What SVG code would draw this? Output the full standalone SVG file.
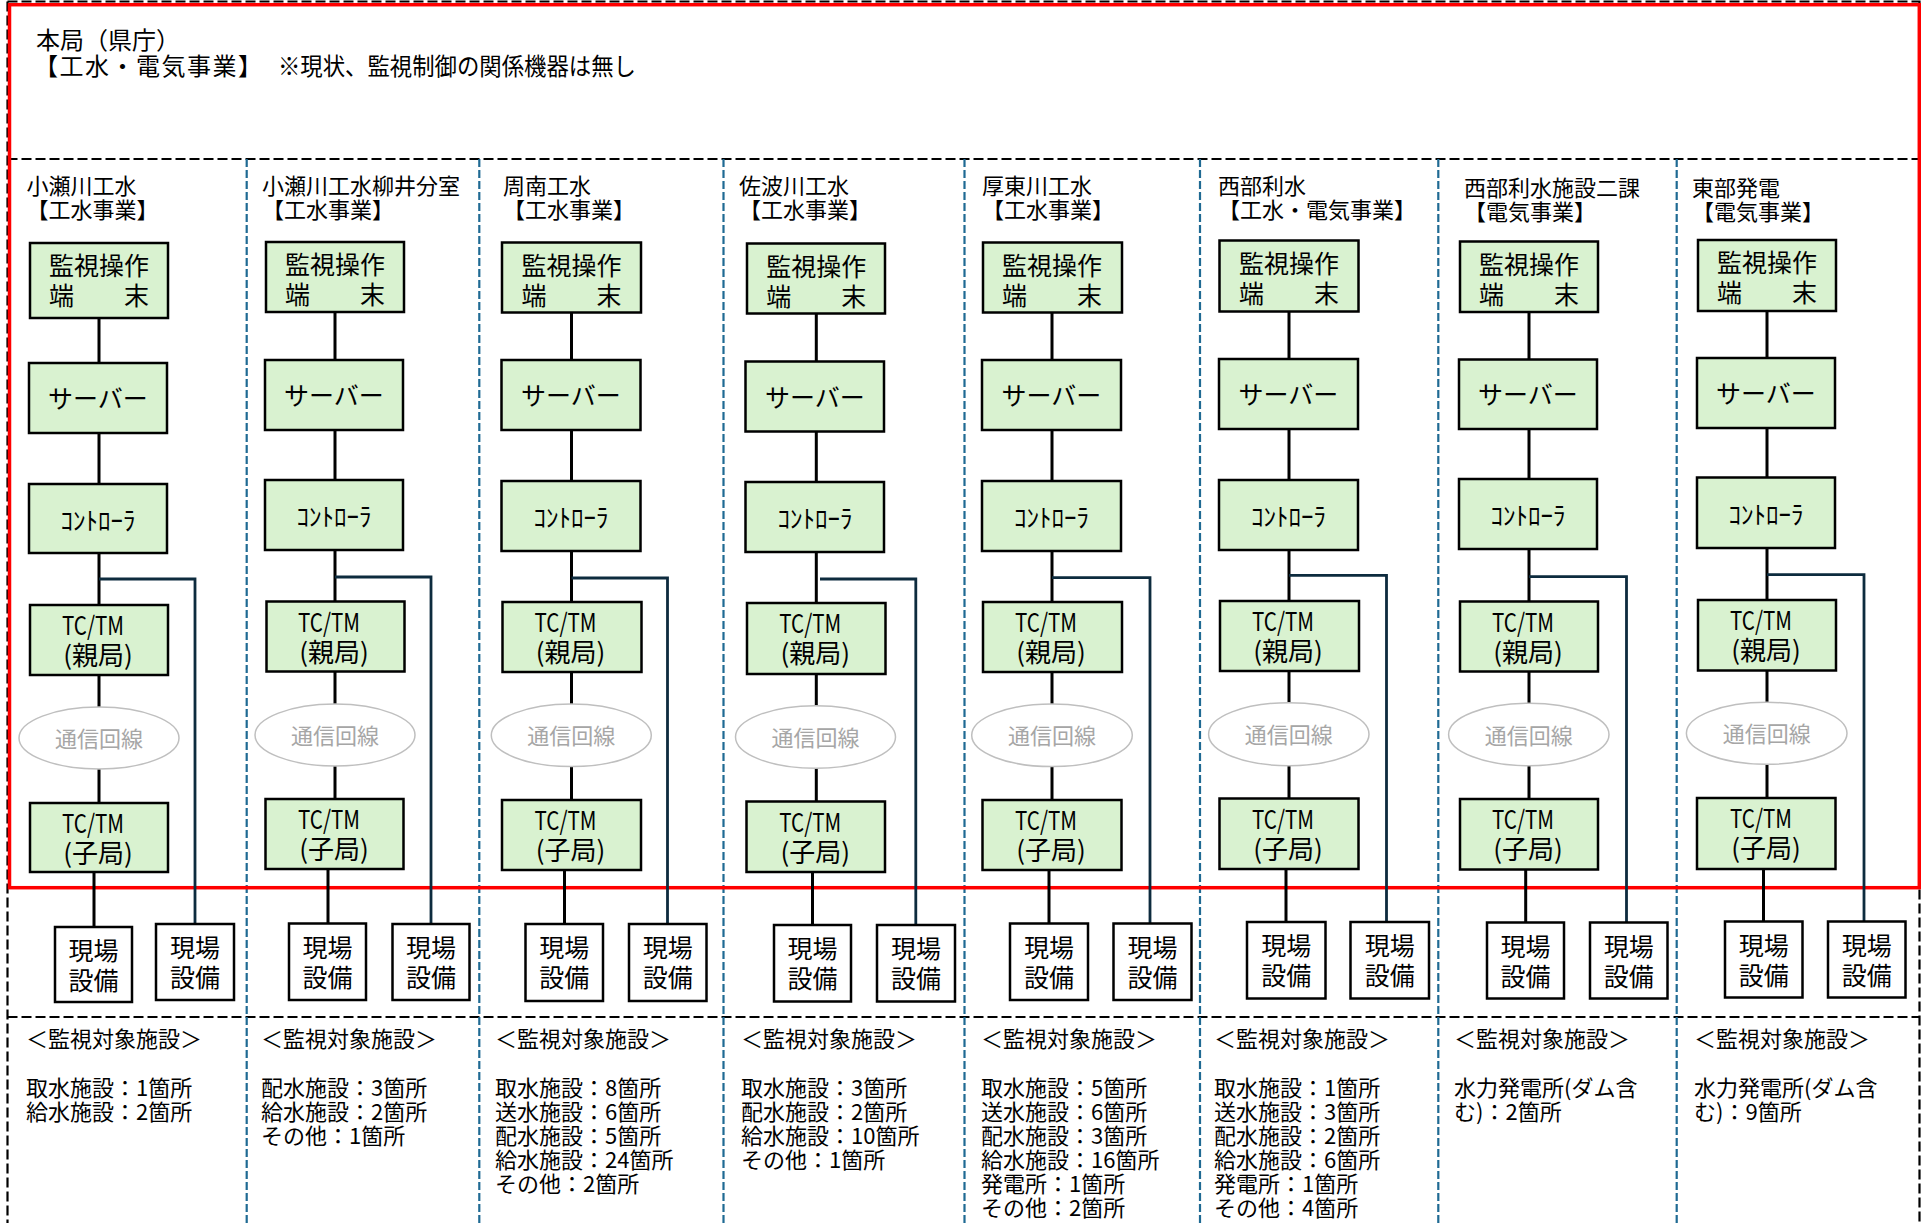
<svg xmlns="http://www.w3.org/2000/svg" width="1921" height="1223" viewBox="0 0 1921 1223">
<style>
text{font-family:"Noto Sans CJK JP","Noto Sans CJK SC",sans-serif;fill:#000}
.c{text-anchor:middle}
.t22{font-size:22px}
.t24{font-size:24px}
.t25{font-size:25px}
.t26{font-size:26px}
.g{fill:#A6A6A6}
.box{fill:#D9F2D0;stroke:#000;stroke-width:2.5}
.fbox{fill:#fff;stroke:#000;stroke-width:2.5}
.oval{fill:#fff;stroke:#BFBFBF;stroke-width:1.5}
.ln{stroke:#000;stroke-width:3;fill:none}
.br{stroke:#0D2B3E;stroke-width:2.8;fill:none}
.dash{stroke:#000;stroke-width:2.2;stroke-dasharray:10 4;fill:none}
.div{stroke:#1F6A93;stroke-width:2.2;stroke-dasharray:8 3;fill:none}
</style>
<rect width="1921" height="1223" fill="#fff"/>
<g id="frame">
<path class="dash" d="M7.5 1.5H1919.5V1223M7.5 1.5V1223"/>
<path class="dash" d="M7.5 159H1919.5M7.5 1017H1919.5"/>
<path class="div" d="M246.7 159V1223M479.3 159V1223M723.5 159V1223M964.5 159V1223M1200 159V1223M1438.3 159V1223M1676.7 159V1223"/>
<rect x="9.5" y="4.7" width="1909.8" height="883" fill="none" stroke="#FF0000" stroke-width="3.5"/>
</g>
<g id="honkyoku">
<text class="t24" x="36" y="49">本局（県庁）</text>
<text class="t24" x="34" y="75" textLength="228" lengthAdjust="spacing">【工水・電気事業】</text>
<text class="t24" x="278" y="75" textLength="358" lengthAdjust="spacingAndGlyphs">※現状、監視制御の関係機器は無し</text>
</g>
<g id="connectors">
<path class="ln" d="M99 318V803M94 872V927"/><path class="br" d="M99 579H195V924"/>
<path class="ln" d="M335 312V799M328 869V923.5"/><path class="br" d="M335 577H431V924"/>
<path class="ln" d="M571.5 312.5V800M564.5 870V924"/><path class="br" d="M571.5 578H667.5V924"/>
<path class="ln" d="M816.3 313.5V801.5M812.5 872V925"/><path class="br" d="M820 579H915.8V925"/>
<path class="ln" d="M1052 312.5V800M1049 870V923.5"/><path class="br" d="M1052 577.7H1150V923.5"/>
<path class="ln" d="M1289 311.5V798.5M1286 869V922"/><path class="br" d="M1289 575.3H1386.5V922"/>
<path class="ln" d="M1529 312V799M1525.7 869.5V922.5"/><path class="br" d="M1529 576.7H1626.5V922.5"/>
<path class="ln" d="M1767 311V798M1763.5 869V921.5"/><path class="br" d="M1767 574.7H1864V921.5"/>
</g>
<g id="col1">
<text class="t22"><tspan x="26.5" y="194">小瀬川工水</tspan><tspan x="26.5" y="218">【工水事業】</tspan></text>
<g id="c1-term"><rect class="box" x="30" y="243" width="138" height="75"/><text class="t25 c"><tspan x="99" y="275">監視操作</tspan><tspan x="99" y="305">端　　末</tspan></text></g>
<g id="c1-server"><rect class="box" x="29" y="363" width="138" height="70"/><text class="t25 c" x="98" y="408">サーバー</text></g>
<g id="c1-ctrl"><rect class="box" x="29" y="484" width="138" height="69"/><text class="t25 c" x="98" y="530">ｺﾝﾄﾛｰﾗ</text></g>
<g id="c1-parent"><rect class="box" x="30" y="605" width="138" height="70"/><text class="t26" x="62" y="635" textLength="62" lengthAdjust="spacingAndGlyphs">TC/TM</text><text class="t26 c" x="98" y="665">(親局)</text></g>
<g id="c1-line"><ellipse class="oval" cx="99" cy="738" rx="80" ry="31"/><text class="t22 c g" x="99" y="747">通信回線</text></g>
<g id="c1-child"><rect class="box" x="30" y="803" width="138" height="69"/><text class="t26" x="62" y="833" textLength="62" lengthAdjust="spacingAndGlyphs">TC/TM</text><text class="t26 c" x="98" y="863">(子局)</text></g>
<g id="c1-field1"><rect class="fbox" x="55" y="927" width="77" height="75"/><text class="t25 c"><tspan x="93.5" y="960">現場</tspan><tspan x="93.5" y="990">設備</tspan></text></g>
<g id="c1-field2"><rect class="fbox" x="156" y="924" width="78" height="76"/><text class="t25 c"><tspan x="195" y="957">現場</tspan><tspan x="195" y="987">設備</tspan></text></g>
<text class="t22"><tspan x="26" y="1047">＜監視対象施設＞</tspan><tspan x="26" y="1096">取水施設：1箇所</tspan><tspan x="26" y="1120">給水施設：2箇所</tspan></text>
</g>
<g id="col2">
<text class="t22"><tspan x="262" y="194">小瀬川工水柳井分室</tspan><tspan x="262" y="218">【工水事業】</tspan></text>
<g id="c2-term"><rect class="box" x="266" y="242" width="138" height="70"/><text class="t25 c"><tspan x="335" y="274">監視操作</tspan><tspan x="335" y="304">端　　末</tspan></text></g>
<g id="c2-server"><rect class="box" x="265" y="360" width="138" height="70"/><text class="t25 c" x="334" y="405">サーバー</text></g>
<g id="c2-ctrl"><rect class="box" x="265" y="480" width="138" height="70"/><text class="t25 c" x="334" y="526">ｺﾝﾄﾛｰﾗ</text></g>
<g id="c2-parent"><rect class="box" x="266.5" y="601.5" width="138" height="70"/><text class="t26" x="298" y="631.5" textLength="62" lengthAdjust="spacingAndGlyphs">TC/TM</text><text class="t26 c" x="334" y="661.5">(親局)</text></g>
<g id="c2-line"><ellipse class="oval" cx="335" cy="735" rx="80" ry="31"/><text class="t22 c g" x="335" y="744">通信回線</text></g>
<g id="c2-child"><rect class="box" x="265.5" y="799" width="138" height="70"/><text class="t26" x="298" y="829" textLength="62" lengthAdjust="spacingAndGlyphs">TC/TM</text><text class="t26 c" x="334" y="859">(子局)</text></g>
<g id="c2-field1"><rect class="fbox" x="289" y="923.5" width="77" height="76.5"/><text class="t25 c"><tspan x="327.5" y="956.5">現場</tspan><tspan x="327.5" y="986.5">設備</tspan></text></g>
<g id="c2-field2"><rect class="fbox" x="392.5" y="924" width="77" height="76"/><text class="t25 c"><tspan x="431" y="957">現場</tspan><tspan x="431" y="987">設備</tspan></text></g>
<text class="t22"><tspan x="261" y="1047">＜監視対象施設＞</tspan><tspan x="261" y="1096">配水施設：3箇所</tspan><tspan x="261" y="1120">給水施設：2箇所</tspan><tspan x="261" y="1144">その他：1箇所</tspan></text>
</g>
<g id="col3">
<text class="t22"><tspan x="503" y="194">周南工水</tspan><tspan x="503" y="218">【工水事業】</tspan></text>
<g id="c3-term"><rect class="box" x="502" y="242.5" width="139" height="70"/><text class="t25 c"><tspan x="571.5" y="274.5">監視操作</tspan><tspan x="571.5" y="304.5">端　　末</tspan></text></g>
<g id="c3-server"><rect class="box" x="501.5" y="360" width="139" height="70"/><text class="t25 c" x="571" y="405">サーバー</text></g>
<g id="c3-ctrl"><rect class="box" x="501.5" y="481" width="139" height="70"/><text class="t25 c" x="571" y="527">ｺﾝﾄﾛｰﾗ</text></g>
<g id="c3-parent"><rect class="box" x="502.5" y="602" width="139" height="70"/><text class="t26" x="534.5" y="632" textLength="62" lengthAdjust="spacingAndGlyphs">TC/TM</text><text class="t26 c" x="570.5" y="662">(親局)</text></g>
<g id="c3-line"><ellipse class="oval" cx="571.3" cy="735.3" rx="80" ry="31.3"/><text class="t22 c g" x="571.3" y="744.3">通信回線</text></g>
<g id="c3-child"><rect class="box" x="502" y="800" width="139" height="70"/><text class="t26" x="534.5" y="830" textLength="62" lengthAdjust="spacingAndGlyphs">TC/TM</text><text class="t26 c" x="570.5" y="860">(子局)</text></g>
<g id="c3-field1"><rect class="fbox" x="525.5" y="924" width="77.5" height="77"/><text class="t25 c"><tspan x="564.3" y="957">現場</tspan><tspan x="564.3" y="987">設備</tspan></text></g>
<g id="c3-field2"><rect class="fbox" x="629" y="924" width="77.5" height="77"/><text class="t25 c"><tspan x="667.8" y="957">現場</tspan><tspan x="667.8" y="987">設備</tspan></text></g>
<text class="t22"><tspan x="495" y="1047">＜監視対象施設＞</tspan><tspan x="495" y="1096">取水施設：8箇所</tspan><tspan x="495" y="1120">送水施設：6箇所</tspan><tspan x="495" y="1144">配水施設：5箇所</tspan><tspan x="495" y="1168">給水施設：24箇所</tspan><tspan x="495" y="1192">その他：2箇所</tspan></text>
</g>
<g id="col4">
<text class="t22"><tspan x="739" y="194">佐波川工水</tspan><tspan x="739" y="218">【工水事業】</tspan></text>
<g id="c4-term"><rect class="box" x="747" y="243.5" width="138" height="70"/><text class="t25 c"><tspan x="816.3" y="275.5">監視操作</tspan><tspan x="816.3" y="305.5">端　　末</tspan></text></g>
<g id="c4-server"><rect class="box" x="745.5" y="361.5" width="138.5" height="70"/><text class="t25 c" x="815" y="406.5">サーバー</text></g>
<g id="c4-ctrl"><rect class="box" x="745.5" y="482" width="138.5" height="70"/><text class="t25 c" x="815" y="528">ｺﾝﾄﾛｰﾗ</text></g>
<g id="c4-parent"><rect class="box" x="747" y="603" width="138.5" height="71"/><text class="t26" x="779.3" y="633" textLength="62" lengthAdjust="spacingAndGlyphs">TC/TM</text><text class="t26 c" x="815.3" y="663">(親局)</text></g>
<g id="c4-line"><ellipse class="oval" cx="815.5" cy="737" rx="80" ry="31.3"/><text class="t22 c g" x="815.5" y="746">通信回線</text></g>
<g id="c4-child"><rect class="box" x="746.5" y="801.5" width="138.5" height="70.5"/><text class="t26" x="779.3" y="831.5" textLength="62" lengthAdjust="spacingAndGlyphs">TC/TM</text><text class="t26 c" x="815.3" y="861.5">(子局)</text></g>
<g id="c4-field1"><rect class="fbox" x="774" y="925" width="77" height="76.5"/><text class="t25 c"><tspan x="812.5" y="958">現場</tspan><tspan x="812.5" y="988">設備</tspan></text></g>
<g id="c4-field2"><rect class="fbox" x="877" y="925" width="78" height="76.5"/><text class="t25 c"><tspan x="916" y="958">現場</tspan><tspan x="916" y="988">設備</tspan></text></g>
<text class="t22"><tspan x="741" y="1047">＜監視対象施設＞</tspan><tspan x="741" y="1096">取水施設：3箇所</tspan><tspan x="741" y="1120">配水施設：2箇所</tspan><tspan x="741" y="1144">給水施設：10箇所</tspan><tspan x="741" y="1168">その他：1箇所</tspan></text>
</g>
<g id="col5">
<text class="t22"><tspan x="982" y="194">厚東川工水</tspan><tspan x="982" y="218">【工水事業】</tspan></text>
<g id="c5-term"><rect class="box" x="983" y="242.5" width="139" height="70"/><text class="t25 c"><tspan x="1052" y="274.5">監視操作</tspan><tspan x="1052" y="304.5">端　　末</tspan></text></g>
<g id="c5-server"><rect class="box" x="982" y="360" width="139" height="70"/><text class="t25 c" x="1051.5" y="405">サーバー</text></g>
<g id="c5-ctrl"><rect class="box" x="982" y="481" width="139" height="70"/><text class="t25 c" x="1051.5" y="527">ｺﾝﾄﾛｰﾗ</text></g>
<g id="c5-parent"><rect class="box" x="983" y="602" width="139" height="70"/><text class="t26" x="1015" y="632" textLength="62" lengthAdjust="spacingAndGlyphs">TC/TM</text><text class="t26 c" x="1051" y="662">(親局)</text></g>
<g id="c5-line"><ellipse class="oval" cx="1052" cy="735.3" rx="80.3" ry="31.3"/><text class="t22 c g" x="1052" y="744.3">通信回線</text></g>
<g id="c5-child"><rect class="box" x="982.5" y="800" width="139" height="70"/><text class="t26" x="1015" y="830" textLength="62" lengthAdjust="spacingAndGlyphs">TC/TM</text><text class="t26 c" x="1051" y="860">(子局)</text></g>
<g id="c5-field1"><rect class="fbox" x="1010" y="923.5" width="78" height="76.5"/><text class="t25 c"><tspan x="1049" y="956.5">現場</tspan><tspan x="1049" y="986.5">設備</tspan></text></g>
<g id="c5-field2"><rect class="fbox" x="1113.5" y="923.5" width="78" height="76.5"/><text class="t25 c"><tspan x="1152.5" y="956.5">現場</tspan><tspan x="1152.5" y="986.5">設備</tspan></text></g>
<text class="t22"><tspan x="981" y="1047">＜監視対象施設＞</tspan><tspan x="981" y="1096">取水施設：5箇所</tspan><tspan x="981" y="1120">送水施設：6箇所</tspan><tspan x="981" y="1144">配水施設：3箇所</tspan><tspan x="981" y="1168">給水施設：16箇所</tspan><tspan x="981" y="1192">発電所：1箇所</tspan><tspan x="981" y="1216">その他：2箇所</tspan></text>
</g>
<g id="col6">
<text class="t22"><tspan x="1218" y="194">西部利水</tspan><tspan x="1218" y="218">【工水・電気事業】</tspan></text>
<g id="c6-term"><rect class="box" x="1219.5" y="240.5" width="139" height="71"/><text class="t25 c"><tspan x="1289" y="272.5">監視操作</tspan><tspan x="1289" y="302.5">端　　末</tspan></text></g>
<g id="c6-server"><rect class="box" x="1219" y="359" width="139" height="70"/><text class="t25 c" x="1288.5" y="404">サーバー</text></g>
<g id="c6-ctrl"><rect class="box" x="1219" y="480" width="139" height="70"/><text class="t25 c" x="1288.5" y="526">ｺﾝﾄﾛｰﾗ</text></g>
<g id="c6-parent"><rect class="box" x="1220" y="601" width="139" height="70"/><text class="t26" x="1252" y="631" textLength="62" lengthAdjust="spacingAndGlyphs">TC/TM</text><text class="t26 c" x="1288" y="661">(親局)</text></g>
<g id="c6-line"><ellipse class="oval" cx="1288.8" cy="734.2" rx="80.2" ry="31.5"/><text class="t22 c g" x="1288.8" y="743.2">通信回線</text></g>
<g id="c6-child"><rect class="box" x="1219.5" y="798.5" width="139" height="70.5"/><text class="t26" x="1252" y="828.5" textLength="62" lengthAdjust="spacingAndGlyphs">TC/TM</text><text class="t26 c" x="1288" y="858.5">(子局)</text></g>
<g id="c6-field1"><rect class="fbox" x="1247" y="922" width="78.5" height="76.5"/><text class="t25 c"><tspan x="1286.3" y="955">現場</tspan><tspan x="1286.3" y="985">設備</tspan></text></g>
<g id="c6-field2"><rect class="fbox" x="1350.5" y="922" width="78.5" height="76.5"/><text class="t25 c"><tspan x="1389.8" y="955">現場</tspan><tspan x="1389.8" y="985">設備</tspan></text></g>
<text class="t22"><tspan x="1214" y="1047">＜監視対象施設＞</tspan><tspan x="1214" y="1096">取水施設：1箇所</tspan><tspan x="1214" y="1120">送水施設：3箇所</tspan><tspan x="1214" y="1144">配水施設：2箇所</tspan><tspan x="1214" y="1168">給水施設：6箇所</tspan><tspan x="1214" y="1192">発電所：1箇所</tspan><tspan x="1214" y="1216">その他：4箇所</tspan></text>
</g>
<g id="col7">
<text class="t22"><tspan x="1464" y="196">西部利水施設二課</tspan><tspan x="1464" y="220">【電気事業】</tspan></text>
<g id="c7-term"><rect class="box" x="1460" y="241.5" width="138" height="70.5"/><text class="t25 c"><tspan x="1529" y="273.5">監視操作</tspan><tspan x="1529" y="303.5">端　　末</tspan></text></g>
<g id="c7-server"><rect class="box" x="1459" y="359.5" width="138" height="69.5"/><text class="t25 c" x="1528" y="404">サーバー</text></g>
<g id="c7-ctrl"><rect class="box" x="1459" y="479" width="138" height="70"/><text class="t25 c" x="1528" y="525">ｺﾝﾄﾛｰﾗ</text></g>
<g id="c7-parent"><rect class="box" x="1460" y="601.5" width="138" height="70"/><text class="t26" x="1492" y="631.5" textLength="62" lengthAdjust="spacingAndGlyphs">TC/TM</text><text class="t26 c" x="1528" y="661.5">(親局)</text></g>
<g id="c7-line"><ellipse class="oval" cx="1528.8" cy="734.5" rx="80.2" ry="31.2"/><text class="t22 c g" x="1528.8" y="743.5">通信回線</text></g>
<g id="c7-child"><rect class="box" x="1460" y="799" width="138" height="70.5"/><text class="t26" x="1492" y="829" textLength="62" lengthAdjust="spacingAndGlyphs">TC/TM</text><text class="t26 c" x="1528" y="859">(子局)</text></g>
<g id="c7-field1"><rect class="fbox" x="1487" y="922.5" width="77" height="76"/><text class="t25 c"><tspan x="1525.5" y="955.5">現場</tspan><tspan x="1525.5" y="985.5">設備</tspan></text></g>
<g id="c7-field2"><rect class="fbox" x="1590" y="922.5" width="77.5" height="76"/><text class="t25 c"><tspan x="1628.8" y="955.5">現場</tspan><tspan x="1628.8" y="985.5">設備</tspan></text></g>
<text class="t22"><tspan x="1454" y="1047">＜監視対象施設＞</tspan><tspan x="1454" y="1096">水力発電所(ダム含</tspan><tspan x="1454" y="1120">む)：2箇所</tspan></text>
</g>
<g id="col8">
<text class="t22"><tspan x="1692" y="196">東部発電</tspan><tspan x="1692" y="220">【電気事業】</tspan></text>
<g id="c8-term"><rect class="box" x="1698" y="240" width="138" height="71"/><text class="t25 c"><tspan x="1767" y="272">監視操作</tspan><tspan x="1767" y="302">端　　末</tspan></text></g>
<g id="c8-server"><rect class="box" x="1697" y="358" width="138" height="70"/><text class="t25 c" x="1766" y="403">サーバー</text></g>
<g id="c8-ctrl"><rect class="box" x="1697" y="477.5" width="138" height="70.5"/><text class="t25 c" x="1766" y="524">ｺﾝﾄﾛｰﾗ</text></g>
<g id="c8-parent"><rect class="box" x="1698" y="600" width="138" height="70.5"/><text class="t26" x="1730" y="630" textLength="62" lengthAdjust="spacingAndGlyphs">TC/TM</text><text class="t26 c" x="1766" y="660">(親局)</text></g>
<g id="c8-line"><ellipse class="oval" cx="1766.7" cy="733.3" rx="80.3" ry="31"/><text class="t22 c g" x="1766.7" y="742.3">通信回線</text></g>
<g id="c8-child"><rect class="box" x="1697" y="798" width="138.5" height="71"/><text class="t26" x="1730" y="828" textLength="62" lengthAdjust="spacingAndGlyphs">TC/TM</text><text class="t26 c" x="1766" y="858">(子局)</text></g>
<g id="c8-field1"><rect class="fbox" x="1725" y="921.5" width="77.5" height="76"/><text class="t25 c"><tspan x="1763.8" y="954.5">現場</tspan><tspan x="1763.8" y="984.5">設備</tspan></text></g>
<g id="c8-field2"><rect class="fbox" x="1828" y="921.5" width="77.5" height="76"/><text class="t25 c"><tspan x="1866.8" y="954.5">現場</tspan><tspan x="1866.8" y="984.5">設備</tspan></text></g>
<text class="t22"><tspan x="1694" y="1047">＜監視対象施設＞</tspan><tspan x="1694" y="1096">水力発電所(ダム含</tspan><tspan x="1694" y="1120">む)：9箇所</tspan></text>
</g>
</svg>
